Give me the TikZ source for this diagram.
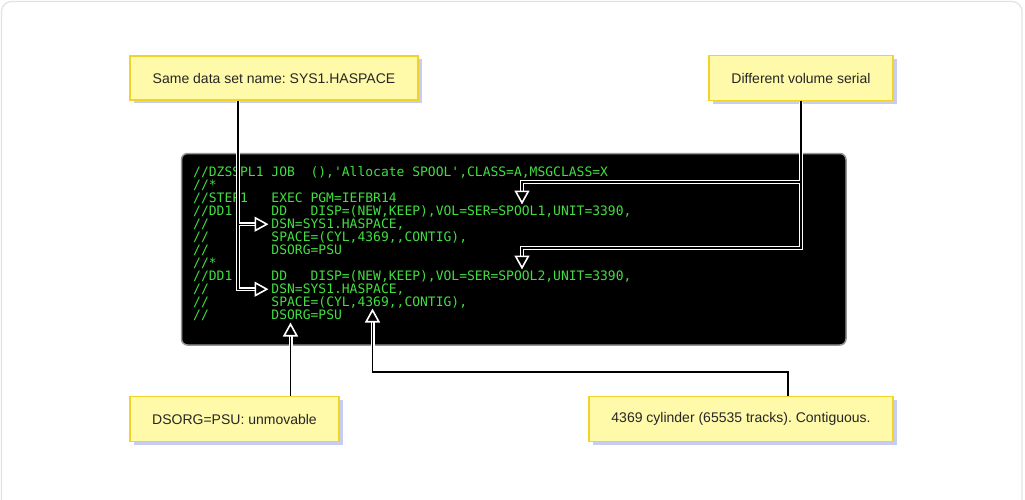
\documentclass[tikz,border=0pt]{standalone}
\usepackage{fontspec}
\setmainfont{Liberation Sans}
\setmonofont{DejaVu Sans Mono}
\usetikzlibrary{arrows.meta,shadows}
\frenchspacing
\definecolor{codegreen}{RGB}{66,222,66}
\definecolor{notefill}{RGB}{255,249,170}
\definecolor{noteline}{RGB}{242,212,40}
\definecolor{noteshadow}{RGB}{200,205,240}
\definecolor{framegray}{RGB}{226,226,226}
\definecolor{boxgray}{RGB}{150,150,150}
\tikzset{
  note/.style={draw=noteline, line width=1.2pt, fill=notefill, inner sep=0pt,
    text=black!85, font=\fontsize{14}{16}\selectfont,
    general shadow={shadow xshift=4pt, shadow yshift=-3pt, fill=noteshadow}},
  codeline/.style={anchor=base west, inner sep=0pt, text=codegreen,
    font=\ttfamily\fontsize{13}{13}\selectfont},
  halo/.style={draw=white, line width=4pt, shorten >=9pt, shorten <=0.8pt},
  core/.style={draw=black, line width=1.3pt,
    -{Triangle[length=14pt,width=15pt,fill=black,color=white,line width=1.6pt]}},
}
\begin{document}
\begin{tikzpicture}[x=1pt,y=-1pt]
\useasboundingbox (0,0) rectangle (1025,500);
\clip (0,0) rectangle (1025,500);
\fill[white] (0,0) rectangle (1025,500);
\draw[framegray, line width=1.2pt, rounded corners=10pt] (1.5,1.5) rectangle (1022,530);

% code window
\node[fill=black, draw=boxgray, line width=1.5pt, rounded corners=6pt,
      minimum width=664.5pt, minimum height=191.5pt, inner sep=0pt]
      (codebox) at (513.75,249.25) {};

\node[codeline] (c1)  at (193,176.6)  {//DZSSPL1~JOB~~(),'Allocate~SPOOL',CLASS=A,MSGCLASS=X};
\node[codeline] (c2)  at (193,189.63) {//*};
\node[codeline] (c3)  at (193,202.66) {//STEP1~~~EXEC~PGM=IEFBR14};
\node[codeline] (c4)  at (193,215.69) {//DD1~~~~~DD~~~DISP=(NEW,KEEP),VOL=SER=SPOOL1,UNIT=3390,};
\node[codeline] (c5)  at (193,228.72) {//~~~~~~~~DSN=SYS1.HASPACE,};
\node[codeline] (c6)  at (193,241.75) {//~~~~~~~~SPACE=(CYL,4369,,CONTIG),};
\node[codeline] (c7)  at (193,254.78) {//~~~~~~~~DSORG=PSU};
\node[codeline] (c8)  at (193,267.81) {//*};
\node[codeline] (c9)  at (193,280.84) {//DD1~~~~~DD~~~DISP=(NEW,KEEP),VOL=SER=SPOOL2,UNIT=3390,};
\node[codeline] (c10) at (193,293.87) {//~~~~~~~~DSN=SYS1.HASPACE,};
\node[codeline] (c11) at (193,306.9)  {//~~~~~~~~SPACE=(CYL,4369,,CONTIG),};
\node[codeline] (c12) at (193,319.93) {//~~~~~~~~DSORG=PSU};

% notes
\node[note, minimum width=288pt, minimum height=44pt] (n1) at (274,78) {Same data set name: SYS1.HASPACE};
\node[note, minimum width=184pt, minimum height=45pt] (n2) at (801,78.2) {Different volume serial};
\node[note, minimum width=209pt, minimum height=45pt] (n3) at (234.5,419) {DSORG=PSU: unmovable};
\node[note, minimum width=304pt, minimum height=45pt] (n4) at (741,419) {4369 cylinder (65535 tracks). Contiguous.};

% connector targets and bends
\coordinate (aj)   at (238,224.2);
\coordinate (dsnA) at (268.5,224.2);
\coordinate (dsnB) at (268.5,289.2);
\coordinate (bk1)  at (522,182);
\coordinate (bk2)  at (522,248);
\coordinate (volA) at (522,204.5);
\coordinate (volB) at (522,269.5);
\coordinate (dsorg) at (290.5,322.5);
\coordinate (dtop) at (788,372);
\coordinate (cturn) at (372.5,372);
\coordinate (cyl)  at (372.5,308.5);

\foreach \p in {halo,core}{
  \draw[style=\p] (n1.south -| aj) -- (aj) -- (dsnA);
  \draw[style=\p] (n1.south -| aj) |- (dsnB);
  \draw[style=\p] (n2.south) |- (bk1) -- (volA);
  \draw[style=\p] (n2.south) |- (bk2) -- (volB);
  \draw[style=\p] (n3.north -| dsorg) -- (dsorg);
  \draw[style=\p] (n4.north -| dtop) -- (dtop) -- (cturn) -- (cyl);
}
\end{tikzpicture}
\end{document}
